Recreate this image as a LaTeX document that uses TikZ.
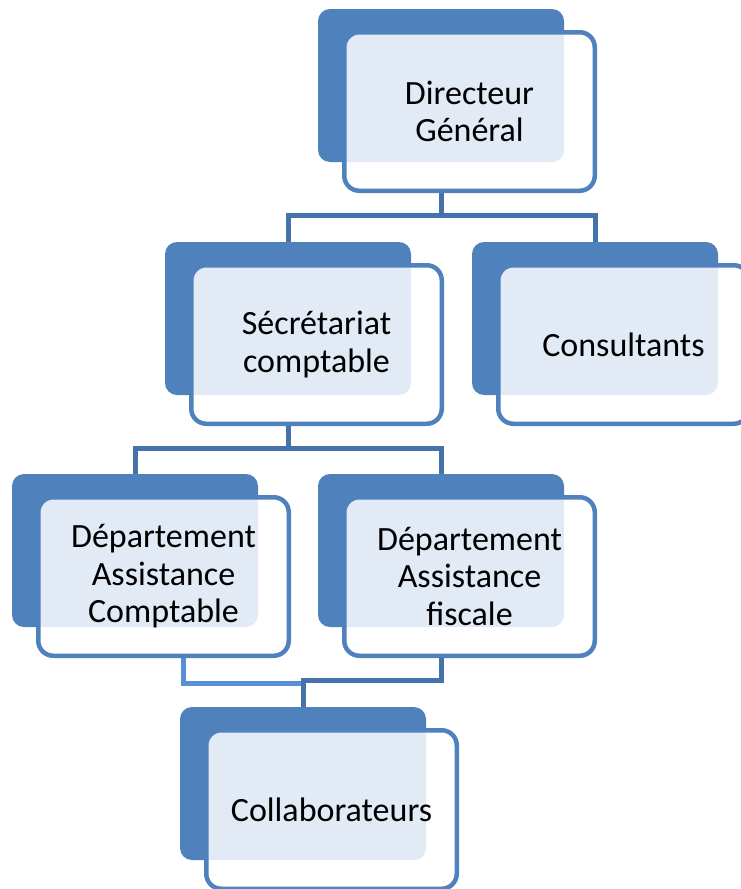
\documentclass[tikz,border=0pt]{standalone}
\usepackage{fontspec}
\setmainfont{Carlito}
\usetikzlibrary{backgrounds}

\definecolor{boxblue}{RGB}{79,129,189}
\definecolor{linkblue}{RGB}{70,114,170}
\definecolor{linklite}{RGB}{88,143,214}
\definecolor{dotblue}{RGB}{226,234,245}

\begin{document}
\begin{tikzpicture}[x=1pt, y=-1pt,
    backbox/.style={fill=boxblue, rounded corners=12pt, minimum width=246pt, minimum height=153pt, inner sep=0pt, outer sep=0pt},
    frontbox/.style={fill=white, draw=boxblue, line width=4.5pt, rounded corners=15pt, minimum width=250.5pt, minimum height=158.5pt, inner sep=0pt, outer sep=0pt, align=center, font=\fontsize{34}{37.5}\selectfont},
    link/.style={draw=linkblue, line width=5pt},
    linklight/.style={draw=linklite, line width=5pt}]
    % Page frame
    \useasboundingbox (0,0) rectangle (741,889);
    \clip (0,0) rectangle (741,889);

    % One unit: blue back card and white front card, shaded where they overlap
    % #1 name, #2 #3 top left of the back card, #4 text
    \def\orgunit#1#2#3#4{
        \node[backbox] (#1b) at (#2+123,#3+76.5) {};
        \node[frontbox, path picture={
            \fill[dotblue, rounded corners=12pt] (#1b.south west) rectangle (#1b.north east);
        }] (#1) at (#2+151.5,#3+102.5) {#4};
    }

    % Cards
    \orgunit{dg}{318}{9}{Directeur\\Général}
    \orgunit{sc}{165}{242}{Sécrétariat\\comptable}
    \orgunit{co}{472}{242}{Consultants}
    \orgunit{dac}{12}{474}{Département\\Assistance\\Comptable}
    \orgunit{daf}{318}{474}{Département\\Assistance\\fiscale}
    \orgunit{cl}{180}{707}{Collaborateurs}

    % Connectors, kept behind the cards
    \begin{scope}[on background layer]
        \draw[link] (dgb.south) -- ++(0,53) coordinate (dgfork);
        \draw[link] (scb.north) |- (dgfork) -| (cob.north);

        \draw[link] (scb.south) -- ++(0,53) coordinate (scfork);
        \draw[link] (dacb.north) |- (scfork) -| (dafb.north);

        \draw[linklight] ([xshift=19.5pt]dac.south) |- ([yshift=24pt]clb.north);
        \draw[link] (dafb.south) -- ++(0,53) -| (clb.north);
    \end{scope}
\end{tikzpicture}
\end{document}
